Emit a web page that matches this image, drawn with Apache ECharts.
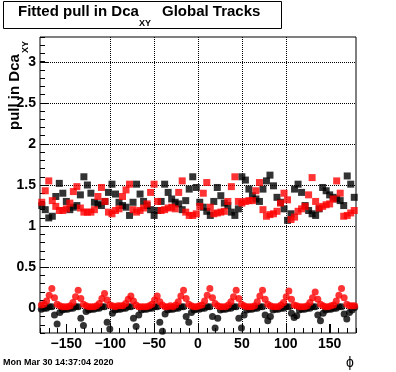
<!DOCTYPE html>
<html><head><meta charset="utf-8">
<script src="https://cdn.jsdelivr.net/npm/echarts@6/dist/echarts.min.js"></script>
<style>html,body{margin:0;padding:0;background:#fff}#c{width:396px;height:372px}</style>
</head><body><div id="c"></div>
<script>
const phiUpper = [
-178,-174,-170,-166,-162,-158,-154,-150,-146,-142,-138,-134,-130,-126,-122,
-118,-114,-110,-106,-102,-98,-94,-90,-86,-82,-78,-74,-70,-66,-62,
-58,-54,-50,-46,-42,-38,-34,-30,-26,-22,-18,-14,-10,-6,-2,
2,6,10,14,18,22,26,30,34,38,42,46,50,54,58,
62,66,70,74,78,82,86,90,94,98,102,106,110,114,118,
122,126,130,134,138,142,146,150,154,158,162,166,170,174,178];
const blackUpper = [
1.25,1.20,1.10,1.12,1.36,1.52,1.40,1.30,1.20,1.23,1.25,1.38,1.60,1.50,1.40,
1.29,1.27,1.25,1.30,1.41,1.51,1.39,1.29,1.25,1.23,1.13,1.29,1.51,1.39,1.30,
1.25,1.20,1.13,1.19,1.30,1.51,1.41,1.33,1.29,1.27,1.20,1.31,1.45,1.60,1.47,
1.29,1.23,1.18,1.13,1.30,1.47,1.37,1.28,1.25,1.17,1.13,1.21,1.60,1.56,1.45,
1.37,1.33,1.30,1.45,1.55,1.62,1.49,1.35,1.29,1.21,1.07,1.15,1.45,1.51,1.41,
1.25,1.19,1.15,1.13,1.21,1.47,1.43,1.38,1.35,1.33,1.31,1.25,1.61,1.51,1.35];
const redUpper = [
1.29,1.43,1.55,1.31,1.24,1.19,1.19,1.21,1.28,1.42,1.48,1.22,1.17,1.17,1.17,
1.20,1.36,1.47,1.30,1.17,1.15,1.19,1.21,1.36,1.44,1.51,1.20,1.17,1.19,1.22,
1.27,1.41,1.51,1.30,1.19,1.20,1.22,1.23,1.21,1.41,1.55,1.17,1.13,1.13,1.15,
1.24,1.40,1.53,1.23,1.15,1.16,1.17,1.18,1.30,1.48,1.60,1.30,1.28,1.30,1.31,
1.31,1.43,1.53,1.20,1.12,1.14,1.15,1.18,1.28,1.40,1.32,1.08,1.11,1.18,1.21,
1.24,1.38,1.59,1.30,1.22,1.24,1.26,1.27,1.33,1.55,1.40,1.12,1.13,1.16,1.19];
const phiLower = [
-178.5,-175.5,-172.5,-169.5,-166.5,-163.5,-160.5,-157.5,-154.5,-151.5,
-148.5,-145.5,-142.5,-139.5,-136.5,-133.5,-130.5,-127.5,-124.5,-121.5,
-118.5,-115.5,-112.5,-109.5,-106.5,-103.5,-100.5,-97.5,-94.5,-91.5,
-88.5,-85.5,-82.5,-79.5,-76.5,-73.5,-70.5,-67.5,-64.5,-61.5,
-58.5,-55.5,-52.5,-49.5,-46.5,-43.5,-40.5,-37.5,-34.5,-31.5,
-28.5,-25.5,-22.5,-19.5,-16.5,-13.5,-10.5,-7.5,-4.5,-1.5,
1.5,4.5,7.5,10.5,13.5,16.5,19.5,22.5,25.5,28.5,
31.5,34.5,37.5,40.5,43.5,46.5,49.5,52.5,55.5,58.5,
61.5,64.5,67.5,70.5,73.5,76.5,79.5,82.5,85.5,88.5,
91.5,94.5,97.5,100.5,103.5,106.5,109.5,112.5,115.5,118.5,
121.5,124.5,127.5,130.5,133.5,136.5,139.5,142.5,145.5,148.5,
151.5,154.5,157.5,160.5,163.5,166.5,169.5,172.5,175.5,178.5];
const blackLower = [
-0.01,0.00,0.00,0.02,0.02,-0.08,-0.19,-0.05,-0.02,-0.01,
-0.01,0.00,0.00,0.02,0.02,-0.12,-0.21,-0.04,-0.02,-0.01,
-0.01,0.00,0.00,0.02,0.02,-0.17,-0.25,-0.06,-0.02,-0.01,
-0.01,0.00,0.00,0.02,0.02,-0.12,-0.22,-0.08,-0.02,-0.01,
-0.01,0.00,0.00,0.02,0.02,-0.17,-0.28,-0.07,-0.02,-0.01,
-0.01,0.00,0.00,0.02,0.02,-0.10,-0.17,-0.05,-0.02,-0.01,
-0.01,0.00,0.00,0.02,0.02,-0.10,-0.24,-0.12,-0.02,-0.01,
-0.01,0.00,0.00,0.02,0.02,-0.12,-0.24,-0.08,-0.02,-0.01,
-0.01,0.00,0.00,0.02,0.02,-0.08,-0.15,-0.10,-0.02,-0.01,
-0.01,0.00,0.00,0.02,0.02,-0.06,-0.11,-0.09,-0.02,-0.01,
-0.01,0.00,0.00,0.02,0.02,-0.08,-0.15,-0.06,-0.02,-0.01,
-0.01,0.00,0.00,0.02,0.02,-0.07,-0.13,-0.05,-0.02,0.01];
const redLower = [
0.04,0.05,0.09,0.16,0.24,0.13,0.05,0.03,0.02,0.02,
0.02,0.03,0.07,0.14,0.22,0.12,0.05,0.03,0.02,0.02,
0.02,0.03,0.06,0.12,0.18,0.10,0.04,0.03,0.02,0.03,
0.03,0.03,0.06,0.11,0.15,0.09,0.04,0.02,0.02,0.02,
0.02,0.03,0.05,0.10,0.15,0.08,0.04,0.02,0.02,0.03,
0.02,0.04,0.08,0.15,0.22,0.12,0.05,0.03,0.02,0.02,
0.03,0.04,0.09,0.16,0.24,0.13,0.06,0.03,0.02,0.02,
0.02,0.04,0.08,0.14,0.22,0.12,0.05,0.03,0.02,0.02,
0.02,0.03,0.08,0.15,0.22,0.11,0.05,0.03,0.02,0.02,
0.02,0.04,0.07,0.14,0.21,0.11,0.04,0.03,0.02,0.02,
0.02,0.03,0.07,0.13,0.20,0.11,0.05,0.03,0.02,0.02,
0.03,0.04,0.09,0.16,0.24,0.13,0.05,0.03,0.03,0.03];
const xMajorTicks = [-150,-100,-50,0,50,100,150];
const yMajorTicks = [0,0.5,1,1.5,2,2.5,3];
const X_MIN = -180, X_MAX = 180, Y_MIN = -0.3, Y_MAX = 3.3;

const FONT = 'Liberation Sans, Arial, Helvetica, sans-serif';
const isMajor = (v, list) => list.some(t => Math.abs(t - v) < 1e-6);
const pairs = (xs, ys) => xs.map((x, i) => [x, ys[i]]);

const chart = echarts.init(document.getElementById('c'), null, {renderer: 'canvas'});
const labelStyle = {color: '#000', fontSize: 14, fontWeight: 'bold', fontFamily: FONT};
const gridRect = {left: 40, right: 40, top: 37, bottom: 39};
const dotted = {color: '#000', width: 1, type: [1, 1]};
const noLine = {show: false, onZero: false};

const textGraphics = [
  {type: 'rect', shape: {x: 3.5, y: 1.5, width: 278, height: 27}, style: {fill: '#fff', stroke: '#000', lineWidth: 1}},
  {type: 'text', x: 18, y: 12, style: {text: 'Fitted pull in Dca', font: 'bold 15px ' + FONT, fill: '#000', align: 'left', verticalAlign: 'middle'}},
  {type: 'text', x: 139, y: 24, style: {text: 'XY', font: 'bold 9px ' + FONT, fill: '#000', align: 'left', verticalAlign: 'middle'}},
  {type: 'text', x: 162, y: 12, style: {text: 'Global Tracks', font: 'bold 15px ' + FONT, fill: '#000', align: 'left', verticalAlign: 'middle'}},
  {type: 'text', x: 14.5, y: 130, rotation: Math.PI / 2, style: {text: 'pull in Dca', font: 'bold 15px ' + FONT, fill: '#000', align: 'left', verticalAlign: 'middle'}},
  {type: 'text', x: 26, y: 53, rotation: Math.PI / 2, style: {text: 'XY', font: 'bold 9px ' + FONT, fill: '#000', align: 'left', verticalAlign: 'middle'}},
  {type: 'text', x: 3, y: 363, style: {text: 'Mon Mar 30 14:37:04 2020', font: 'bold 9px ' + FONT, fill: '#000', align: 'left', verticalAlign: 'middle'}},
  {type: 'text', x: 350, y: 363, style: {text: '\u03D5', font: '14px ' + FONT, fill: '#000', align: 'center', verticalAlign: 'middle'}}
];

chart.setOption({
  animation: false,
  grid: [
    Object.assign({show: true, borderColor: '#000', borderWidth: 1}, gridRect),
    Object.assign({show: false}, gridRect)
  ],
  xAxis: [
    {type: 'value', gridIndex: 0, min: X_MIN, max: X_MAX, interval: 10, position: 'bottom',
     axisLine: noLine, axisTick: {inside: true, length: 5, lineStyle: {color: '#000'}},
     axisLabel: Object.assign({margin: 4, formatter: v => isMajor(v, xMajorTicks) ? String(v).replace('-', '\u2212') : ''}, labelStyle),
     splitLine: {show: false}},
    {type: 'value', gridIndex: 1, min: X_MIN, max: X_MAX, splitNumber: 7, position: 'bottom',
     axisLine: noLine, axisTick: {inside: true, length: 9, customValues: xMajorTicks, lineStyle: {color: '#000'}},
     axisLabel: {show: false},
     splitLine: {show: true, showMinLine: false, showMaxLine: false, lineStyle: dotted}}
  ],
  yAxis: [
    {type: 'value', gridIndex: 0, min: Y_MIN, max: Y_MAX, interval: 0.1, position: 'left',
     axisLine: noLine, axisTick: {inside: true, length: 5, lineStyle: {color: '#000'}},
     axisLabel: Object.assign({margin: 4, formatter: v => isMajor(v, yMajorTicks) ? String(Math.round(v * 10) / 10) : ''}, labelStyle),
     splitLine: {show: false}},
    {type: 'value', gridIndex: 1, min: Y_MIN, max: Y_MAX, splitNumber: 7, position: 'left',
     axisLine: noLine, axisTick: {show: false}, axisLabel: {show: false}, splitLine: {show: false}}
  ],
  series: [
    {type: 'scatter', xAxisIndex: 0, yAxisIndex: 0, data: pairs(phiUpper, blackUpper), symbol: 'rect', symbolSize: 7, itemStyle: {color: '#000'}, z: 20},
    {type: 'scatter', xAxisIndex: 0, yAxisIndex: 0, data: pairs(phiUpper, redUpper), symbol: 'rect', symbolSize: 7, itemStyle: {color: '#ff0000'}, z: 21},
    {type: 'scatter', xAxisIndex: 0, yAxisIndex: 0, data: pairs(phiLower, blackLower), symbol: 'circle', symbolSize: 7, itemStyle: {color: '#000'}, z: 22},
    {type: 'scatter', xAxisIndex: 0, yAxisIndex: 0, data: pairs(phiLower, redLower), symbol: 'circle', symbolSize: 7, itemStyle: {color: '#ff0000'}, z: 23}
  ],
  graphic: textGraphics
});

// horizontal dotted grid lines and major ticks, placed through the axis scale
const finder = {xAxisIndex: 0, yAxisIndex: 0};
const lineGraphics = [];
yMajorTicks.forEach(v => {
  const a = chart.convertToPixel(finder, [X_MIN, v]);
  const b = chart.convertToPixel(finder, [X_MAX, v]);
  const y = Math.round(a[1]) + 0.5;
  lineGraphics.push({type: 'line', z: 10, silent: true, shape: {x1: a[0], y1: y, x2: b[0], y2: y}, style: {stroke: '#000', lineWidth: 1, lineDash: [1, 1]}});
  lineGraphics.push({type: 'line', z: 10, silent: true, shape: {x1: a[0], y1: y, x2: a[0] + 9, y2: y}, style: {stroke: '#000', lineWidth: 1}});
});
xMajorTicks.forEach(v => {
  const a = chart.convertToPixel(finder, [v, Y_MIN]);
  const x = Math.round(a[0]) + 0.5;
  lineGraphics.push({type: 'line', z: 10, silent: true, shape: {x1: x, y1: a[1], x2: x, y2: a[1] - 9}, style: {stroke: '#000', lineWidth: 1}});
});
chart.setOption({graphic: textGraphics.concat(lineGraphics)});
</script></body></html>
